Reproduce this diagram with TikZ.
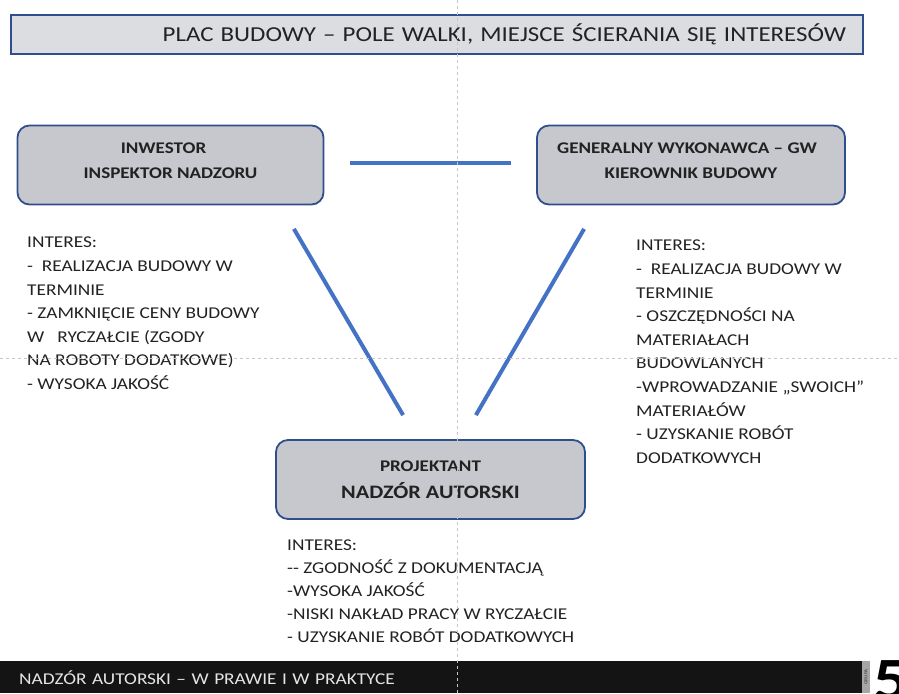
\documentclass[tikz,border=0pt]{standalone}
\usepackage{fontspec}
\setmainfont{Carlito}[FakeStretch=1.17]
\usetikzlibrary{calc, positioning}
\definecolor{boxblue}{HTML}{2F4F8C}
\definecolor{linkblue}{HTML}{4472C4}
\definecolor{boxgray}{HTML}{C6C8CD}
\definecolor{titlegray}{HTML}{DCDDE1}
\definecolor{inktext}{HTML}{222222}
\tikzset{
  titlebar/.style={rectangle, draw=boxblue, line width=2pt, fill=titlegray, minimum height=39pt, text width=818pt, inner xsep=17pt, align=right, font=\fontsize{21.3}{24}\selectfont, text=inktext},
  party/.style={rectangle, rounded corners=12pt, draw=boxblue, line width=1.8pt, fill=boxgray, minimum height=79pt, align=center, font=\bfseries\fontsize{16.3}{25}\selectfont, text=inktext},
  interest/.style={anchor=north west, inner sep=0pt, align=left, font=\fontsize{16.5}{23.6}\selectfont, text=inktext},
  link/.style={draw=linkblue, line width=4pt},
  guide/.style={draw=gray!45, dashed, line width=0.6pt},
  footbar/.style={rectangle, fill=black!92, minimum width=862pt, minimum height=32pt, text width=824pt, inner xsep=19pt, align=left, font=\fontsize{16.5}{20}\selectfont, text=white!90!black},
}

\begin{document}
\begin{tikzpicture}[x=1pt, y=-1pt]
  \useasboundingbox (0,0) rectangle (899,693);

  % --- TITLE ---
  \node[titlebar, anchor=north west] (title) at (10,14) {PLAC BUDOWY -- POLE WALKI, MIEJSCE ŚCIERANIA SIĘ INTERESÓW};

  % --- PARTIES ---
  \node[party, minimum width=306pt] (inw) at (170.5,165) {INWESTOR\hspace*{14pt}\\INSPEKTOR NADZORU\hspace*{14pt}\\[-17pt]};
  \node[party, minimum width=308pt] (gw) at (691,165) {GENERALNY WYKONAWCA -- GW\hspace*{8pt}\\KIEROWNIK BUDOWY\hspace*{8pt}\\[-17pt]};
  \node[party, minimum width=309pt] (proj) at (430.5,479.5) {PROJEKTANT\\[2pt]{\fontsize{19}{20}\selectfont NADZÓR AUTORSKI}};

  % --- LINKS ---
  \draw[link, shorten <=26pt, shorten >=25pt] ([yshift=2pt]inw.east) -- ([yshift=2pt]gw.west);
  \draw[link] ([xshift=-30.5pt, yshift=-23.5pt]inw.south east) -- ([xshift=128pt, yshift=24pt]proj.north west);
  \draw[link] ([xshift=48pt, yshift=-23.5pt]gw.south west) -- ([xshift=-110pt, yshift=24pt]proj.north east);

  % --- INTERESTS ---
  \node[interest] (inwint) at (27,237) {INTERES:\\-~ REALIZACJA BUDOWY W\\TERMINIE\\- ZAMKNIĘCIE CENY BUDOWY\\W~~ RYCZAŁCIE (ZGODY\\NA ROBOTY DODATKOWE)\\- WYSOKA JAKOŚĆ};
  \node[interest] (gwint) at (636,240) {INTERES:\\-~ REALIZACJA BUDOWY W\\TERMINIE\\- OSZCZĘDNOŚCI NA\\MATERIAŁACH\\BUDOWLANYCH\\-WPROWADZANIE „SWOICH”\\MATERIAŁÓW\\- UZYSKANIE ROBÓT\\DODATKOWYCH};
  \node[interest, font=\fontsize{16.5}{22.8}\selectfont] (projint) at (287,540) {INTERES:\\-{}- ZGODNOŚĆ Z DOKUMENTACJĄ\\-WYSOKA JAKOŚĆ\\-NISKI NAKŁAD PRACY W RYCZAŁCIE\\- UZYSKANIE ROBÓT DODATKOWYCH};

  % --- FOOTER ---
  \node[footbar, anchor=north west] (foot) at (0,661) {NADZÓR AUTORSKI -- W PRAWIE I W PRAKTYCE};
  \node[rectangle, fill=gray!70, minimum width=32pt, minimum height=8pt, inner sep=0pt, rotate=90, font=\fontsize{4.5}{5}\selectfont, text=black!80] (grupa) at (866,677) {GRUPA};
  \node[anchor=north west, inner sep=0pt, font=\bfseries\fontsize{60}{60}\selectfont] (pagenum) at (873,660) {5};

  % --- GUIDES ---
  \draw[guide] (457,0) -- (457,693);
  \draw[guide] (0,358) -- (899,358);
\end{tikzpicture}
\end{document}
